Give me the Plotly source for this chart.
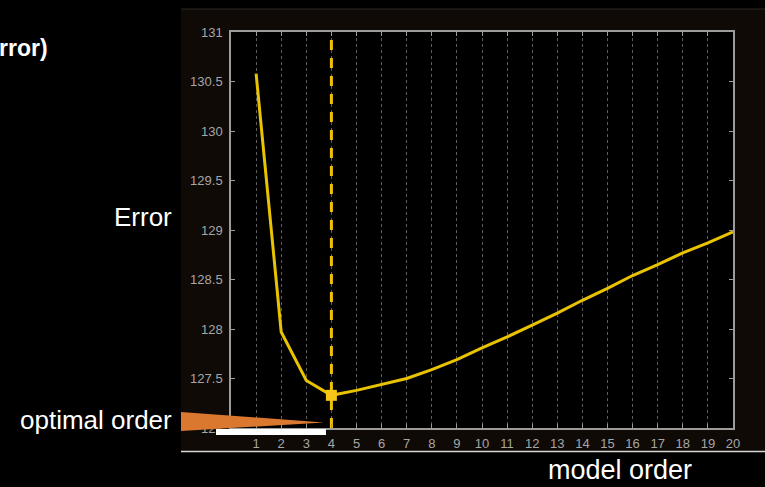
import plotly.graph_objects as go

# ---- data ----
orders = list(range(1, 21))
errors = [130.58, 127.97, 127.48, 127.33, 127.38, 127.44, 127.50, 127.59, 127.69, 127.81,
          127.92, 128.04, 128.16, 128.29, 128.41, 128.54, 128.65, 128.77, 128.87, 128.98]
optimal_order = 4
optimal_error = 127.33
x_ticks = list(range(1, 21))
y_range = [127, 131]
x_range = [0, 20]

# ---- layout geometry (pixels) ----
W, H = 765, 487
L, R, T, B = 231, 733, 32, 428


def px(x):
    return (x - L) / (R - L)


def py(y):
    return (B - y) / (B - T)


YEL = "#e9c300"

fig = go.Figure()
fig.add_trace(go.Scatter(
    x=orders, y=errors, mode="lines",
    line=dict(color=YEL, width=3), hoverinfo="skip", showlegend=False))
fig.add_trace(go.Scatter(
    x=[optimal_order, optimal_order], y=y_range, mode="lines",
    line=dict(color="#eec200", width=3, dash="10px,8px"), showlegend=False))
fig.add_trace(go.Scatter(
    x=[optimal_order], y=[optimal_error], mode="markers",
    marker=dict(symbol="square", size=11, color="#f5c518"), showlegend=False))

shapes = [
    # brown panel
    dict(type="rect", xref="paper", yref="paper", x0=px(181), x1=px(765), y0=py(451), y1=py(9),
         fillcolor="#0f0a06", line=dict(width=0), layer="below"),
    dict(type="line", xref="paper", yref="paper", x0=px(181), x1=px(765), y0=py(9), y1=py(9),
         line=dict(color="#2a2622", width=1), layer="below"),
    # black plot area
    dict(type="rect", xref="paper", yref="paper", x0=0, x1=1, y0=0, y1=1,
         fillcolor="#000000", line=dict(width=0), layer="below"),
    # white bottom rule
    dict(type="line", xref="paper", yref="paper", x0=px(181), x1=px(765), y0=py(451.5), y1=py(451.5),
         line=dict(color="#d8d8d8", width=1.5)),
    # orange wedge
    dict(type="path", xref="paper", yref="paper",
         path=f"M {px(181)} {py(412)} L {px(324)} {py(422.5)} L {px(181)} {py(431)} Z",
         fillcolor="#d9782e", line=dict(width=0)),
    # white bar
    dict(type="rect", xref="paper", yref="paper", x0=px(216), x1=px(326), y0=py(435), y1=py(429),
         fillcolor="#ffffff", line=dict(width=0)),
]

font_main = "Liberation Sans, Arial, sans-serif"
annotations = [
    dict(text="rror)", xref="paper", yref="paper", x=px(-3), y=py(48), xanchor="left", yanchor="middle",
         showarrow=False, font=dict(family=font_main, size=23, color="white", weight="bold")),
    dict(text="Error", xref="paper", yref="paper", x=px(174), y=py(217), xanchor="right", yanchor="middle",
         showarrow=False, font=dict(family=font_main, size=26, color="white")),
    dict(text="optimal order", xref="paper", yref="paper", x=px(174), y=py(420), xanchor="right",
         yanchor="middle", showarrow=False, font=dict(family=font_main, size=26, color="white")),
    dict(text="model order", xref="paper", yref="paper", x=px(620), y=py(470), xanchor="center",
         yanchor="middle", showarrow=False, borderpad=0,
         font=dict(family=font_main, size=27, color="white")),
]

tick_font = dict(family=font_main, size=13, color="#a6a6a6")
fig.update_layout(
    width=W, height=H,
    margin=dict(l=L, r=W - R, t=T, b=H - B, pad=0),
    paper_bgcolor="#000000", plot_bgcolor="#000000",
    shapes=shapes, annotations=annotations, showlegend=False,
)
fig.update_xaxes(
    range=x_range, tickmode="array", tickvals=x_ticks, ticktext=[str(v) for v in x_ticks],
    showgrid=True, gridcolor="#5e5e5e", griddash="dot", gridwidth=1,
    showline=True, linecolor="#9c9c9c", linewidth=1.5, mirror="ticks",
    ticks="inside", ticklen=4, tickcolor="#9c9c9c", tickfont=tick_font,
    ticklabelstandoff=3, zeroline=False, fixedrange=True,
)
fig.update_yaxes(
    range=y_range, tickmode="linear", tick0=127, dtick=0.5,
    showgrid=False, showline=True, linecolor="#9c9c9c", linewidth=1.5, mirror="ticks",
    ticks="inside", ticklen=4, tickcolor="#9c9c9c", tickfont=tick_font,
    ticklabelstandoff=4, zeroline=False, fixedrange=True,
)

fig.write_html("out.html")
